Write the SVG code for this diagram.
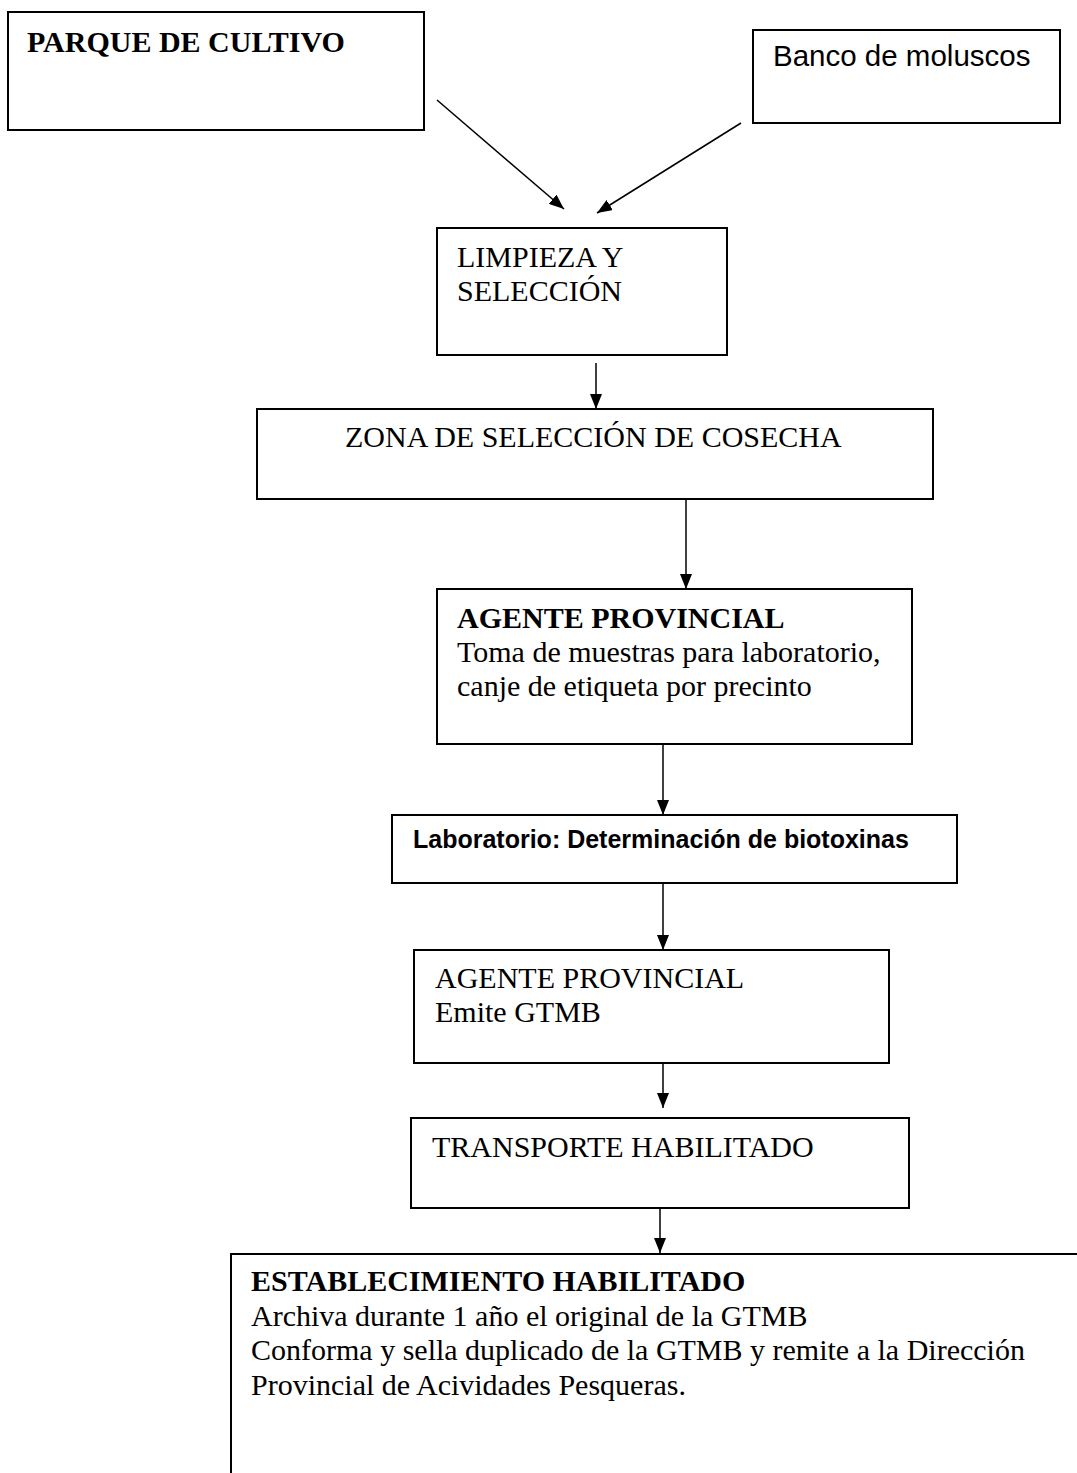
<svg xmlns="http://www.w3.org/2000/svg" width="1077" height="1473" viewBox="0 0 1077 1473">
<style>
.box{fill:#fff;stroke:#000;stroke-width:2}
.serif{font-family:"Liberation Serif","Times New Roman",serif;font-size:30px;fill:#000}
.sans{font-family:"Liberation Sans",Arial,sans-serif;fill:#000}
.b{font-weight:bold}
.conn line{stroke:#000;stroke-width:1.5}
</style>
<defs>
<marker id="arr" markerUnits="userSpaceOnUse" markerWidth="15" markerHeight="12" refX="15" refY="6" orient="auto">
<path d="M0,0 L15,6 L0,12 z" fill="#000"/>
</marker>
</defs>
<rect width="1077" height="1473" fill="#fff"/>
<g id="parque">
<rect class="box" x="8" y="12" width="416" height="118"/>
<text class="serif b" x="27" y="52">PARQUE DE CULTIVO</text>
</g>
<g id="banco">
<rect class="box" x="753" y="30" width="307" height="93"/>
<text class="sans" x="773" y="66" font-size="29.5">Banco de moluscos</text>
</g>
<g id="limpieza">
<rect class="box" x="437" y="228" width="290" height="127"/>
<text class="serif" x="457" y="267">LIMPIEZA Y</text>
<text class="serif" x="457" y="301">SELECCIÓN</text>
</g>
<g id="zona">
<rect class="box" x="257" y="409" width="676" height="90"/>
<text class="serif" x="345" y="447">ZONA DE SELECCIÓN DE COSECHA</text>
</g>
<g id="agente1">
<rect class="box" x="437" y="589" width="475" height="155"/>
<text class="serif b" x="457" y="628">AGENTE PROVINCIAL</text>
<text class="serif" x="457" y="662">Toma de muestras para laboratorio,</text>
<text class="serif" x="457" y="696">canje de etiqueta por precinto</text>
</g>
<g id="laboratorio">
<rect class="box" x="392" y="815" width="565" height="68"/>
<text class="sans b" x="413" y="848" font-size="25">Laboratorio: Determinación de biotoxinas</text>
</g>
<g id="agente2">
<rect class="box" x="414" y="950" width="475" height="113"/>
<text class="serif" x="435" y="988">AGENTE PROVINCIAL</text>
<text class="serif" x="435" y="1022">Emite GTMB</text>
</g>
<g id="transporte">
<rect class="box" x="411" y="1118" width="498" height="90"/>
<text class="serif" x="432" y="1157">TRANSPORTE HABILITADO</text>
</g>
<g id="establecimiento">
<path class="box" d="M231,1500 L231,1254 L1090,1254 L1090,1500" fill="#fff"/>
<text class="serif b" x="251" y="1291">ESTABLECIMIENTO HABILITADO</text>
<text class="serif" x="251" y="1326">Archiva durante 1 año el original de la GTMB</text>
<text class="serif" x="251" y="1360">Conforma y sella duplicado de la GTMB y remite a la Dirección</text>
<text class="serif" x="251" y="1395">Provincial de Acividades Pesqueras.</text>
</g>
<g id="connectors" class="conn">
<line x1="437" y1="100" x2="564" y2="209" marker-end="url(#arr)"/>
<line x1="741" y1="123" x2="597" y2="213" marker-end="url(#arr)"/>
<line x1="596" y1="363" x2="596" y2="409" marker-end="url(#arr)"/>
<line x1="686" y1="500" x2="686" y2="589" marker-end="url(#arr)"/>
<line x1="663" y1="745" x2="663" y2="815" marker-end="url(#arr)"/>
<line x1="663" y1="884" x2="663" y2="950" marker-end="url(#arr)"/>
<line x1="663" y1="1064" x2="663" y2="1108" marker-end="url(#arr)"/>
<line x1="660" y1="1209" x2="660" y2="1253" marker-end="url(#arr)"/>
</g>
</svg>
